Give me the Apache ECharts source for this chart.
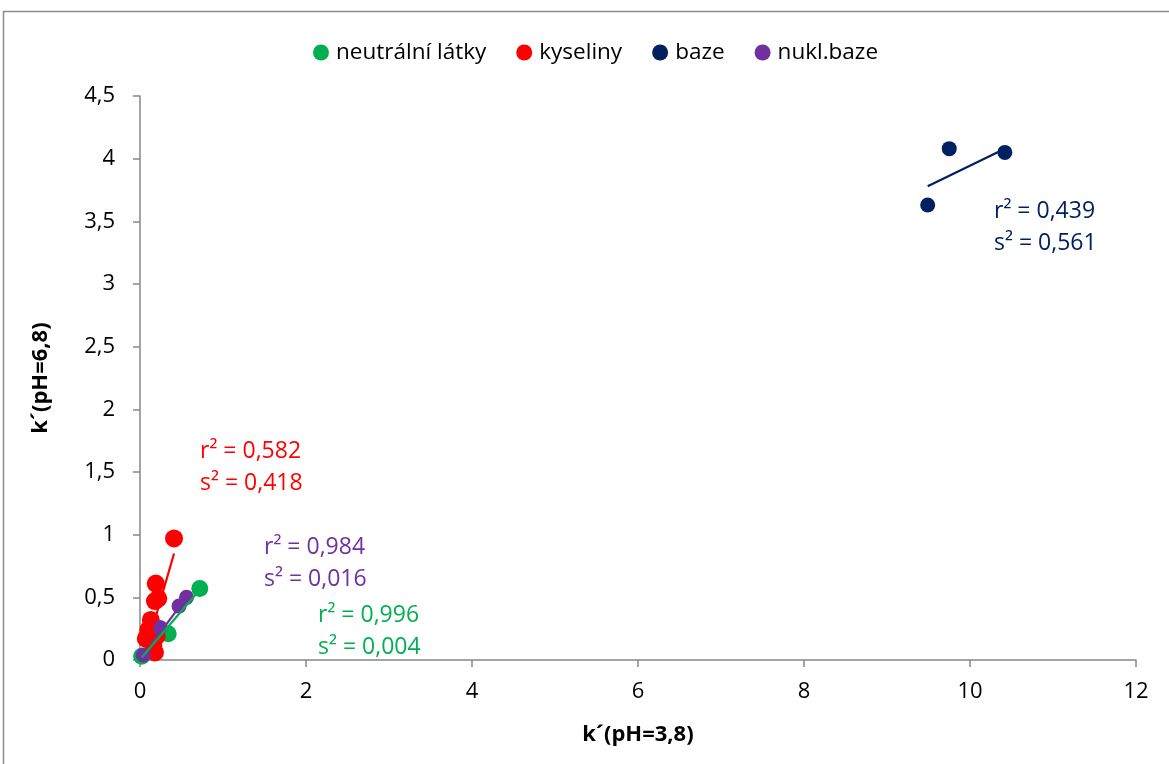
<!DOCTYPE html>
<html>
<head>
<meta charset="utf-8">
<script src="https://cdn.jsdelivr.net/npm/echarts@6/dist/echarts.min.js"></script>
<style>
  html, body { margin: 0; padding: 0; background: #fff; }
  #chart { width: 1169px; height: 764px; }
</style>
</head>
<body>
<div id="chart"></div>
<script>
// Retention factors k' at pH 3.8 (x) vs pH 6.8 (y) for four groups of analytes
const neutralPoints = [[0.02, 0.03], [0.34, 0.21], [0.72, 0.57]];
const acidPoints = [[0.41, 0.97], [0.19, 0.61], [0.22, 0.49], [0.18, 0.47], [0.13, 0.32],
                    [0.07, 0.17], [0.10, 0.24], [0.20, 0.19], [0.18, 0.06], [0.16, 0.11]];
const basePoints = [[9.49, 3.63], [9.75, 4.08], [10.42, 4.05]];
const nucleoBasePoints = [[0.04, 0.04], [0.24, 0.26], [0.47, 0.43], [0.56, 0.50]];

// Linear trend lines (endpoints of each fitted line)
const neutralTrend = [[0.02, 0.02], [0.72, 0.56]];
const acidTrend = [[0.07, 0.07], [0.41, 0.85]];
const baseTrend = [[9.49, 3.78], [10.42, 4.08]];
const nucleoBaseTrend = [[0.04, 0.04], [0.56, 0.50]];

const seriesNames = ['neutrální látky', 'kyseliny', 'baze', 'nukl.baze'];
const colors = ['#00b050', '#ff0000', '#002060', '#7030a0'];

// Fit statistics shown next to each group
const fitLabels = [
  { r2: '0,996', s2: '0,004' },
  { r2: '0,582', s2: '0,418' },
  { r2: '0,439', s2: '0,561' },
  { r2: '0,984', s2: '0,016' }
];

const yTicks = ['0', '0,5', '1', '1,5', '2', '2,5', '3', '3,5', '4', '4,5'];

const FONT = '"Open Sans", Lato, sans-serif';
const chart = echarts.init(document.getElementById('chart'), null, { renderer: 'canvas' });

function scatter(name, data, color, size) {
  return {
    name, type: 'scatter', data, symbolSize: size,
    itemStyle: { color, opacity: 1 }, z: 3
  };
}
function trend(data, color) {
  return {
    type: 'line', data, symbol: 'none', silent: true,
    lineStyle: { color, width: 2.2 }, z: 4
  };
}
function statText(idx, x, y) {
  const c = colors[idx];
  return {
    type: 'text', left: x, top: y, z: 10,
    style: {
      text: 'r² = ' + fitLabels[idx].r2 + '\ns² = ' + fitLabels[idx].s2,
      fill: c, font: '23px ' + FONT, lineHeight: 32
    }
  };
}

chart.setOption({
  animation: false,
  color: colors,
  grid: { left: 140, right: 33, top: 96, bottom: 104 },
  legend: {
    top: 36, left: 308,
    itemWidth: 16, itemHeight: 16, itemGap: 30,
    icon: 'circle',
    data: seriesNames,
    textStyle: { fontFamily: FONT, fontSize: 22.5, color: '#000', padding: [0, 0, 0, 2] }
  },
  xAxis: {
    type: 'value', min: 0, max: 12, interval: 2,
    name: 'k´(pH=3,8)', nameLocation: 'middle', nameGap: 64,
    nameTextStyle: { fontFamily: FONT, fontSize: 22, fontWeight: 'bold', color: '#000' },
    axisLine: { show: true, onZero: false, lineStyle: { color: '#868686', width: 1.5 } },
    axisTick: { show: true, length: 7, lineStyle: { color: '#868686', width: 1.5 } },
    axisLabel: { fontFamily: FONT, fontSize: 22, color: '#000', margin: 21 },
    splitLine: { show: false }
  },
  yAxis: {
    type: 'value', min: 0, max: 4.5, interval: 0.5,
    name: 'k´(pH=6,8)', nameLocation: 'middle', nameGap: 88, nameRotate: 90,
    nameTextStyle: { fontFamily: FONT, fontSize: 22, fontWeight: 'bold', color: '#000' },
    axisLine: { show: true, lineStyle: { color: '#868686', width: 1.5 } },
    axisTick: { show: true, length: 7, lineStyle: { color: '#868686', width: 1.5 } },
    axisLabel: {
      fontFamily: FONT, fontSize: 22, color: '#000', margin: 25,
      formatter: (v) => yTicks[Math.round(v / 0.5)]
    },
    splitLine: { show: false }
  },
  graphic: [
    {
      type: 'rect', silent: true, z: -1,
      shape: { x: 3.5, y: 11.5, width: 1300, height: 900 },
      style: { fill: 'none', stroke: '#8c8c8c', lineWidth: 1.5 }
    },
    statText(2, 994, 195),
    statText(1, 200, 435),
    statText(3, 264, 531),
    statText(0, 318, 599)
  ],
  series: [
    scatter(seriesNames[0], neutralPoints, colors[0], 17),
    scatter(seriesNames[1], acidPoints, colors[1], 18),
    scatter(seriesNames[3], nucleoBasePoints, colors[3], 15),
    scatter(seriesNames[2], basePoints, colors[2], 15),
    trend(acidTrend, colors[1]),
    trend(baseTrend, colors[2]),
    trend(nucleoBaseTrend, colors[3]),
    trend(neutralTrend, colors[0])
  ]
});
</script>
</body>
</html>
